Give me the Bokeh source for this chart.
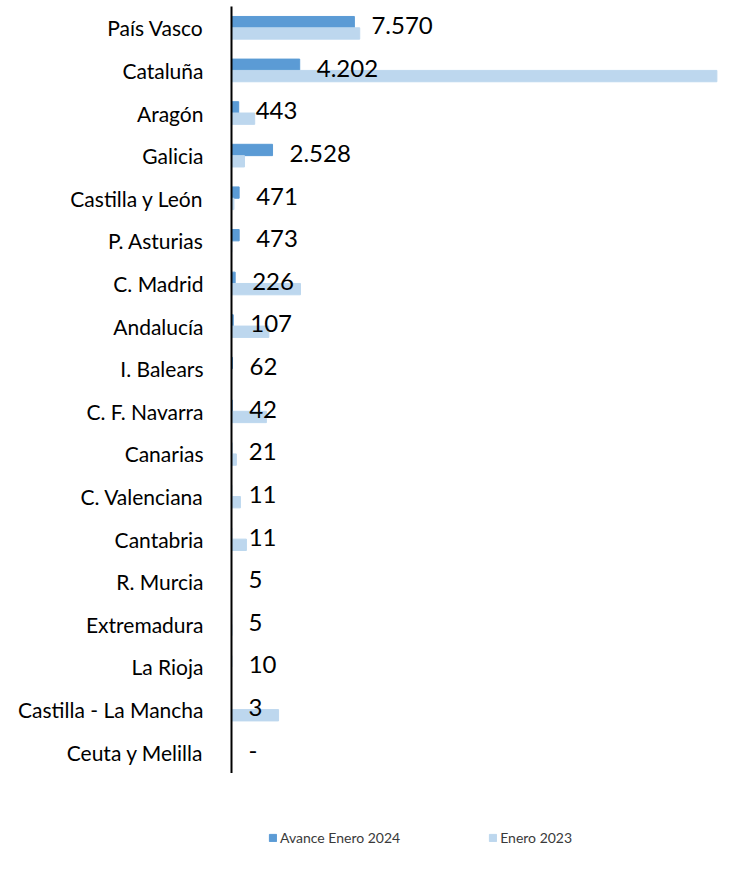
from bokeh.plotting import figure
from bokeh.layouts import column
from bokeh.models import ColumnDataSource, FactorRange, Range1d, Legend, LegendItem
from bokeh.transform import dodge
from bokeh.core.properties import value
from bokeh.embed import file_html
from bokeh.resources import INLINE

regions = ["País Vasco", "Cataluña", "Aragón", "Galicia", "Castilla y León",
           "P. Asturias", "C. Madrid", "Andalucía", "I. Balears", "C. F. Navarra",
           "Canarias", "C. Valenciana", "Cantabria", "R. Murcia", "Extremadura",
           "La Rioja", "Castilla - La Mancha", "Ceuta y Melilla"]
avance_2024 = [7570, 4202, 443, 2528, 471, 473, 226, 107, 62, 42, 21, 11, 11, 5, 5, 10, 3, 0]
enero_2023 = [7900, 29900, 1430, 800, 150, 20, 4250, 2300, 10, 2150, 300, 550, 920, 0, 30, 0, 2900, 0]

series_names = ["Avance Enero 2024", "Enero 2023"]
colors = ["#5B9BD5", "#BDD7EE"]

labels = ["-" if v == 0 else f"{v:,}".replace(",", ".") for v in avance_2024]

src = ColumnDataSource(dict(region=regions, a=avance_2024, b=enero_2023, lab=labels))

FONT = "Lato"

p = figure(frame_width=487, frame_height=767, output_backend="svg", toolbar_location=None,
           y_range=FactorRange(factors=list(reversed(regions)), range_padding=0),
           x_range=Range1d(0, 30000), x_axis_location=None,
           min_border_left=231, min_border_right=0, min_border_top=6, min_border_bottom=0)

p.outline_line_color = None
p.xgrid.visible = False
p.ygrid.visible = False

p.hbar(y=dodge("region", 0.133, range=p.y_range), left=0, right="a", height=0.266,
       color=colors[0], source=src)
p.hbar(y=dodge("region", -0.133, range=p.y_range), left=0, right="b", height=0.266,
       color=colors[1], source=src)

p.text(x="a", y=dodge("region", 0.05, range=p.y_range), text="lab", source=src,
       x_offset=17, text_baseline="middle", text_align="left",
       text_font=value(FONT), text_font_size="24px", text_color="#000000")

ax = p.yaxis[0]
ax.axis_line_color = "#000000"
ax.axis_line_width = 2
ax.major_tick_line_color = None
ax.minor_tick_line_color = None
ax.major_label_standoff = 22
ax.major_label_text_font = FONT
ax.major_label_text_font_size = "21px"
ax.major_label_text_color = "#000000"

# legend strip below the chart (frame aligned with the main frame)
lg = figure(frame_width=487, frame_height=84, output_backend="svg", toolbar_location=None,
            x_range=Range1d(0, 1), y_range=Range1d(0, 1),
            x_axis_location=None, y_axis_location=None,
            min_border_left=231, min_border_right=0, min_border_top=0, min_border_bottom=0)
lg.outline_line_color = None
lg.xgrid.visible = False
lg.ygrid.visible = False
d1 = lg.hbar(y=[-5], left=[0], right=[0.1], height=0.1, color=colors[0])
d2 = lg.hbar(y=[-5], left=[0], right=[0.1], height=0.1, color=colors[1])

legend = Legend(items=[LegendItem(label=series_names[0], renderers=[d1]),
                       LegendItem(label=series_names[1], renderers=[d2])],
                orientation="horizontal", location=(37, 11),
                label_text_font=FONT, label_text_font_size="14px",
                label_text_color="#3a3a3a",
                glyph_width=9, glyph_height=9, spacing=88, label_standoff=3,
                border_line_color=None, background_fill_alpha=0,
                margin=0, padding=0)
lg.add_layout(legend, "center")

layout = column(p, lg, spacing=0)
open("out.html", "w").write(file_html(layout, INLINE))
